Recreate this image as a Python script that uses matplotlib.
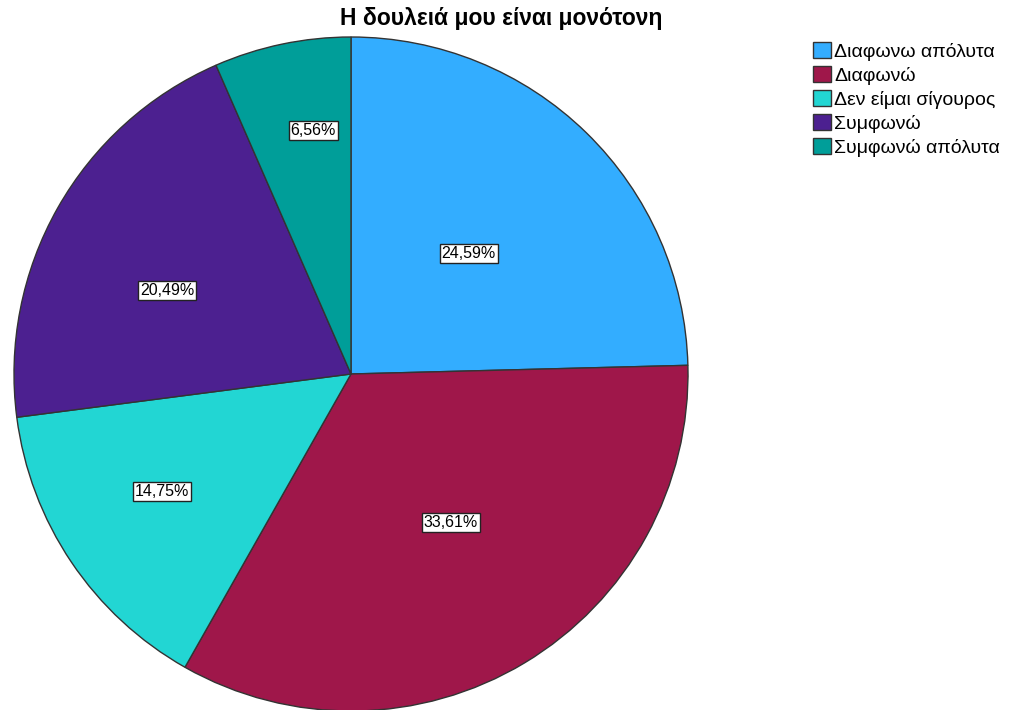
import numpy as np
import matplotlib.pyplot as plt
from matplotlib.patches import Patch

plt.rcParams['font.family'] = ['Liberation Sans', 'DejaVu Sans']

title = 'Η δουλειά μου είναι μονότονη'
answers = ['Διαφωνω απόλυτα', 'Διαφωνώ', 'Δεν είμαι σίγουρος', 'Συμφωνώ', 'Συμφωνώ απόλυτα']
percent = [24.59, 33.61, 14.75, 20.49, 6.56]
colors = ['#33adff', '#9f174a', '#22d6d3', '#4c2090', '#009e99']
# where each value box sits: fraction of radius, extra turn in degrees
label_dist = [0.5, 0.53, 0.66, 0.6, 0.73]
label_turn = [0, 3, -2, 5, -3]

fig = plt.figure(figsize=(10.11, 7.10), dpi=100)
W, H = 1011, 710
cx, cy, r = 351, 374, 337
ax = fig.add_axes([(cx - r) / W, (H - cy - r) / H, 2 * r / W, 2 * r / H])

wedges, _ = ax.pie(percent, colors=colors, startangle=90, counterclock=False,
                   radius=1, wedgeprops=dict(edgecolor='#333333', linewidth=1))
ax.set_xlim(-1, 1)
ax.set_ylim(-1, 1)
ax.set_aspect('equal')
ax.axis('off')

for w, p, d, t in zip(wedges, percent, label_dist, label_turn):
    ang = np.deg2rad((w.theta1 + w.theta2) / 2 + t)
    ax.text(d * np.cos(ang), d * np.sin(ang), f'{p:.2f}%'.replace('.', ','),
            ha='center', va='center', fontsize=11.5,
            bbox=dict(boxstyle='square,pad=0.12', fc='white', ec='#222222', lw=1))

fig.text(501 / W, 1 - 19 / H, title, ha='center', va='center',
         fontsize=16.5, fontweight='bold')

handles = [Patch(fc=c, ec='#333333', lw=1) for c in colors]
fig.legend(handles, answers, loc='upper left', bbox_to_anchor=(813 / W, 1 - 42 / H),
           frameon=False, fontsize=14, handlelength=0.9, handleheight=0.9,
           handletextpad=0.2, labelspacing=0.27, borderaxespad=0, borderpad=0)

fig.savefig('out.png', dpi=100)
